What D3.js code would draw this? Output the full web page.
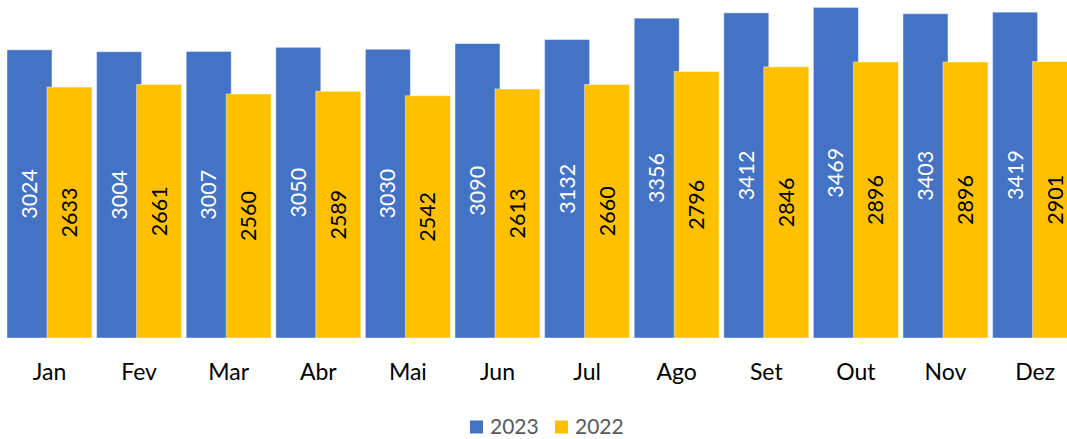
<!DOCTYPE html>
<html><head><meta charset="utf-8">
<script src="https://cdn.jsdelivr.net/npm/d3@7"></script>
<style>body{margin:0;background:#fff}svg{display:block}</style>
</head><body>
<svg id="c" width="1067" height="439"></svg>
<script>
const months = ["Jan","Fev","Mar","Abr","Mai","Jun","Jul","Ago","Set","Out","Nov","Dez"];
const values2023 = [3024,3004,3007,3050,3030,3090,3132,3356,3412,3469,3403,3419];
const values2022 = [2633,2661,2560,2589,2542,2613,2660,2796,2846,2896,2896,2901];
const seriesNames = ["2023","2022"];
const colors = ["#4472C4","#FFC000"];
const labelColors = ["#ffffff","#000000"];

const svg = d3.select("#c");
const font = "Lato, 'Liberation Sans', sans-serif";
const x = d3.scaleBand().domain(months).range([4.7, 1079.9]).paddingInner(0.0513).paddingOuter(0.02565);
const y = d3.scaleLinear().domain([0, 3469]).range([338, 7.4]);
const bw = x.bandwidth();
const barW = bw * 45/85;
const offsets = [0, bw - barW];
const data = [values2023, values2022];

data.forEach((vals, si) => {
  const g = svg.append("g");
  g.selectAll("rect").data(months).join("rect")
    .attr("x", (m) => x(m) + offsets[si])
    .attr("y", (m,i) => y(vals[i]))
    .attr("width", barW)
    .attr("height", (m,i) => y(0) - y(vals[i]))
    .attr("fill", colors[si])
    .attr("stroke", "#ffffff").attr("stroke-opacity", 0.45).attr("stroke-width", 1);
});
data.forEach((vals, si) => {
  svg.append("g").selectAll("text").data(months).join("text")
    .attr("transform", (m,i) => {
      const cx = x(m) + offsets[si] + barW/2;
      const cy = (y(vals[i]) + y(0))/2;
      return `translate(${cx},${cy}) rotate(-90)`;
    })
    .attr("text-anchor","middle").attr("dy","0.35em")
    .attr("font-family", font).attr("font-size", 21.5)
    .attr("fill", labelColors[si])
    .text((m,i) => vals[i]);
});

const xAxis = svg.append("g").attr("transform","translate(0,338)")
  .call(d3.axisBottom(x).tickSize(0).tickPadding(26));
xAxis.select(".domain").remove();
xAxis.selectAll("text").attr("font-family", font).attr("font-size", 23).attr("fill","#000");

const legendX = [470, 555];
seriesNames.forEach((s, i) => {
  svg.append("rect").attr("x", legendX[i]).attr("y", 420.5).attr("width", 13).attr("height", 13).attr("fill", colors[i]);
  svg.append("text").attr("x", legendX[i] + 20).attr("y", 433.5)
    .attr("font-family", font).attr("font-size", 21).attr("fill","#595959").text(s);
});
</script>
</body></html>
